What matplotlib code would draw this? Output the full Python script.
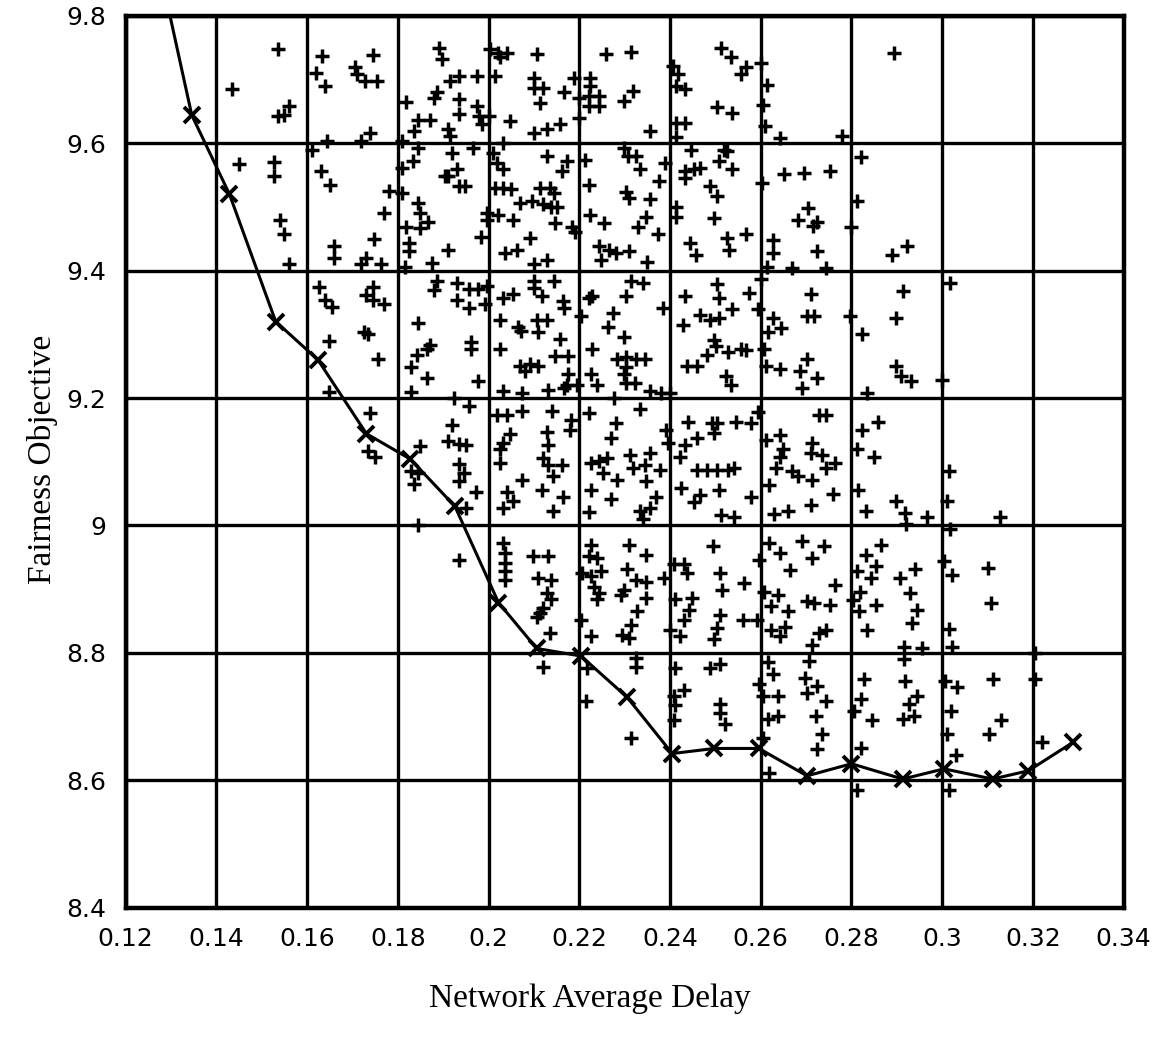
import matplotlib
matplotlib.use("Agg")
import matplotlib.pyplot as plt

# ---- Pareto curve (x markers) ----
curve_x = [0.125, 0.1346, 0.1429, 0.1531, 0.1624, 0.1731, 0.1828, 0.1926, 0.2022, 0.2106,
           0.2204, 0.2306, 0.2405, 0.2498, 0.2596, 0.2702, 0.2800, 0.2913, 0.3004,
           0.3111, 0.3190, 0.3289]
curve_y = [9.956, 9.644, 9.520, 9.320, 9.260, 9.144, 9.104, 9.030, 8.879, 8.807,
           8.795, 8.730, 8.642, 8.650, 8.650, 8.607, 8.626, 8.602, 8.618,
           8.602, 8.615, 8.660]

# ---- scattered solutions (+ markers) ----
pts = [
 # row 9.6-9.8
 (0.1535,9.748),(0.1435,9.685),(0.1537,9.643),(0.155,9.644),(0.156,9.658),
 (0.1633,9.736),(0.162,9.71),(0.164,9.69),(0.1705,9.719),(0.171,9.709),(0.1727,9.698),(0.1754,9.698),
 (0.1745,9.739),(0.1738,9.616),(0.172,9.603),(0.1645,9.603),
 (0.189,9.75),(0.1898,9.732),(0.1936,9.705),(0.1916,9.698),(0.1886,9.68),(0.188,9.671),(0.1818,9.664),
 (0.1845,9.636),(0.187,9.636),(0.1836,9.619),(0.191,9.622),(0.1916,9.611),(0.181,9.603),(0.1936,9.67),(0.1936,9.645),
 (0.1974,9.705),(0.1974,9.658),(0.198,9.643),(0.1985,9.63),(0.2004,9.748),(0.2022,9.742),(0.204,9.742),(0.2026,9.735),
 (0.2106,9.74),(0.2015,9.705),(0.21,9.703),(0.21,9.687),(0.212,9.687),(0.2113,9.663),(0.2166,9.68),(0.2188,9.703),
 (0.2048,9.635),(0.2157,9.63),(0.2128,9.622),(0.21,9.616),(0.20,9.643),(0.2033,9.60),
 (0.2258,9.74),(0.2313,9.743),(0.2224,9.703),(0.2224,9.69),(0.2221,9.674),(0.2244,9.674),(0.2221,9.658),(0.2244,9.658),
 (0.22,9.671),(0.2299,9.666),(0.2318,9.682),(0.22,9.64),(0.2355,9.619),
 (0.2512,9.75),(0.2534,9.735),(0.2557,9.709),(0.2407,9.721),(0.2418,9.709),(0.2414,9.69),(0.2433,9.685),
 (0.2503,9.656),(0.2537,9.648),(0.2414,9.632),(0.2433,9.632),(0.2414,9.61),
 (0.2568,9.719),(0.26,9.726),(0.2613,9.692),(0.2606,9.66),(0.261,9.627),(0.2643,9.608),(0.278,9.611),(0.2894,9.741),
 # row 9.4-9.6
 (0.145,9.567),(0.1528,9.571),(0.1528,9.549),(0.154,9.48),(0.155,9.457),(0.156,9.41),
 (0.161,9.59),(0.163,9.556),(0.165,9.535),(0.178,9.525),(0.177,9.49),(0.1747,9.45),(0.166,9.438),(0.166,9.42),
 (0.173,9.42),(0.172,9.41),(0.1763,9.41),
 (0.1845,9.593),(0.1833,9.572),(0.192,9.585),(0.181,9.561),(0.191,9.548),(0.193,9.559),(0.181,9.522),(0.1845,9.506),
 (0.1848,9.49),(0.1867,9.477),(0.1848,9.467),(0.1818,9.469),(0.1825,9.443),(0.1825,9.43),(0.191,9.433),(0.1875,9.412),
 (0.1815,9.405),(0.1905,9.548),(0.1936,9.532),
 (0.1966,9.593),(0.1948,9.532),(0.2011,9.585),(0.2018,9.569),(0.2033,9.559),(0.2015,9.53),(0.2033,9.53),(0.205,9.528),
 (0.2128,9.58),(0.2172,9.572),(0.2161,9.556),(0.2114,9.53),(0.2136,9.53),(0.2145,9.522),(0.207,9.506),(0.2095,9.509),
 (0.212,9.504),(0.2138,9.50),(0.2152,9.50),(0.1996,9.49),(0.1996,9.48),(0.2022,9.487),(0.2055,9.48),(0.2147,9.474),
 (0.2185,9.469),(0.219,9.46),(0.1983,9.453),(0.2091,9.451),(0.2037,9.427),(0.2062,9.433),(0.2128,9.417),(0.21,9.411),
 (0.2213,9.574),(0.2221,9.535),(0.2299,9.593),(0.2307,9.58),(0.2325,9.58),(0.2333,9.559),(0.2376,9.54),(0.239,9.569),
 (0.2302,9.524),(0.231,9.514),(0.2355,9.512),(0.2347,9.484),(0.2224,9.487),(0.2255,9.474),(0.2329,9.469),(0.2373,9.458),
 (0.2244,9.438),(0.2266,9.433),(0.228,9.427),(0.231,9.43),(0.2247,9.417),(0.2349,9.414),
 (0.2433,9.556),(0.2452,9.559),(0.2467,9.561),(0.2433,9.545),(0.2508,9.572),(0.2537,9.559),(0.2447,9.59),(0.2519,9.59),
 (0.2525,9.588),(0.2489,9.532),(0.2503,9.517),(0.2414,9.50),(0.2414,9.484),(0.2497,9.482),(0.2443,9.443),(0.2526,9.451),
 (0.253,9.433),(0.2458,9.425),
 (0.282,9.578),(0.2651,9.551),(0.2696,9.553),(0.2752,9.556),(0.2603,9.537),(0.2704,9.498),(0.2682,9.479),(0.2723,9.477),
 (0.2715,9.47),(0.2813,9.509),(0.28,9.469),(0.2568,9.458),(0.2628,9.448),(0.2628,9.427),(0.2723,9.43),(0.2923,9.439),
 (0.289,9.425),(0.2613,9.406),(0.2668,9.404),(0.2743,9.404),
 # row 9.2-9.4
 (0.1648,9.29),(0.1648,9.21),(0.1626,9.375),(0.164,9.354),(0.1655,9.343),(0.1746,9.375),(0.173,9.362),(0.1746,9.354),
 (0.177,9.348),(0.1725,9.304),(0.1735,9.30),(0.1757,9.262),(0.1845,9.317),(0.187,9.283),(0.1864,9.277),(0.1842,9.267),
 (0.183,9.248),(0.1864,9.232),(0.183,9.21),(0.1886,9.383),(0.188,9.37),(0.193,9.38),(0.193,9.354),(0.1925,9.20),
 (0.1958,9.371),(0.1977,9.371),(0.1996,9.376),(0.1958,9.341),(0.1993,9.347),(0.1962,9.288),(0.1962,9.277),(0.1977,9.227),
 (0.2033,9.357),(0.2055,9.363),(0.21,9.384),(0.2144,9.384),(0.21,9.372),(0.2117,9.36),(0.2026,9.323),(0.2066,9.312),
 (0.2072,9.305),(0.2106,9.323),(0.2128,9.323),(0.211,9.304),(0.2165,9.352),(0.2167,9.342),(0.2158,9.293),(0.2026,9.277),
 (0.2147,9.266),(0.2176,9.266),(0.207,9.25),(0.2092,9.253),(0.211,9.25),(0.208,9.242),(0.2176,9.237),(0.2172,9.221),
 (0.2195,9.221),(0.2033,9.211),(0.2073,9.208),(0.2132,9.213),
 (0.2221,9.357),(0.2228,9.36),(0.2203,9.328),(0.2303,9.36),(0.234,9.381),(0.2314,9.384),(0.2385,9.341),(0.2275,9.333),
 (0.2264,9.312),(0.2299,9.296),(0.2229,9.277),(0.2284,9.261),(0.2303,9.264),(0.2325,9.261),(0.2344,9.261),(0.2303,9.248),
 (0.2299,9.237),(0.2303,9.224),(0.2322,9.224),(0.2225,9.237),(0.224,9.221),(0.2166,9.216),(0.2355,9.211),(0.2381,9.208),
 (0.24,9.208),(0.2277,9.20),
 (0.2433,9.36),(0.2467,9.331),(0.2489,9.323),(0.2508,9.325),(0.2429,9.315),(0.2504,9.379),(0.2508,9.357),(0.2536,9.339),
 (0.2497,9.291),(0.2502,9.282),(0.2482,9.267),(0.2437,9.25),(0.2459,9.25),(0.2527,9.272),(0.2523,9.235),(0.2534,9.221),
 (0.2557,9.277),
 (0.2575,9.365),(0.2594,9.339),(0.2568,9.275),(0.26,9.387),(0.2627,9.325),(0.2645,9.31),(0.2615,9.304),(0.2608,9.277),
 (0.2611,9.25),(0.271,9.363),(0.2702,9.328),(0.2717,9.328),(0.2702,9.261),(0.2642,9.245),(0.2687,9.242),(0.2725,9.232),
 (0.2691,9.216),(0.2797,9.328),(0.2913,9.368),(0.2898,9.325),(0.2824,9.30),(0.2898,9.25),(0.2909,9.234),(0.2931,9.226),
 (0.2835,9.208),(0.30,9.229),(0.3018,9.381),
 # row 9.0-9.2
 (0.1738,9.176),(0.1735,9.117),(0.175,9.107),(0.1848,9.125),(0.183,9.085),(0.1845,9.082),(0.1836,9.065),(0.192,9.158),
 (0.191,9.132),(0.1935,9.128),(0.1935,9.096),(0.1935,9.07),(0.1845,9.0),
 (0.1958,9.188),(0.1951,9.127),(0.1947,9.082),(0.1973,9.052),(0.1951,9.028),
 (0.2019,9.174),(0.2041,9.174),(0.2073,9.18),(0.2139,9.18),(0.2048,9.143),(0.2033,9.13),(0.2026,9.12),(0.2128,9.146),
 (0.2132,9.127),(0.2182,9.166),(0.2179,9.15),(0.2026,9.098),(0.2121,9.106),(0.2132,9.095),(0.2161,9.095),(0.2143,9.077),
 (0.2073,9.071),(0.2117,9.055),(0.2041,9.053),(0.2055,9.039),(0.2033,9.028),(0.2165,9.045),(0.2143,9.022),
 (0.2221,9.176),(0.228,9.16),(0.2269,9.138),(0.2333,9.182),(0.2392,9.15),(0.2396,9.13),(0.2311,9.111),(0.2355,9.114),
 (0.2225,9.098),(0.2244,9.101),(0.2262,9.106),(0.2318,9.09),(0.2344,9.095),(0.2377,9.087),(0.2252,9.082),(0.2284,9.071),
 (0.2348,9.069),(0.2225,9.055),(0.2269,9.042),(0.237,9.045),(0.2221,9.021),(0.2333,9.023),(0.2355,9.028),(0.234,9.01),
 (0.244,9.163),(0.2493,9.16),(0.2504,9.16),(0.2497,9.145),(0.2545,9.163),(0.2459,9.138),(0.2433,9.127),(0.2422,9.108),
 (0.2459,9.087),(0.2482,9.087),(0.2504,9.087),(0.2527,9.087),(0.2542,9.09),(0.2425,9.058),(0.2467,9.047),(0.2508,9.055),
 (0.2452,9.037),(0.2512,9.016),(0.2542,9.013),
 (0.2594,9.178),(0.2579,9.16),(0.2611,9.134),(0.2642,9.142),(0.2729,9.174),(0.2744,9.174),(0.2649,9.12),(0.2642,9.108),
 (0.2714,9.13),(0.271,9.114),(0.2736,9.111),(0.2763,9.098),(0.2744,9.09),(0.2634,9.09),(0.2668,9.085),(0.2683,9.077),
 (0.2714,9.071),(0.2619,9.063),(0.2759,9.05),(0.2579,9.045),(0.271,9.032),(0.2661,9.023),(0.263,9.018),
 (0.2824,9.15),(0.2858,9.163),(0.2812,9.12),(0.285,9.108),(0.2815,9.056),(0.2831,9.023),(0.2898,9.039),(0.2917,9.02),
 (0.2967,9.013),(0.2921,9.002),(0.3015,9.085),(0.3011,9.038),(0.3127,9.013),(0.3018,8.995),
 # row 8.8-9.0
 (0.1935,8.946),(0.2033,8.973),(0.2037,8.957),(0.2037,8.941),(0.2037,8.928),(0.2037,8.915),(0.2098,8.952),(0.2131,8.952),
 (0.2109,8.918),(0.2138,8.915),(0.2128,8.894),(0.2138,8.884),(0.212,8.87),(0.2113,8.862),(0.2106,8.857),(0.2135,8.831),
 (0.2226,8.97),(0.2222,8.952),(0.224,8.949),(0.2207,8.926),(0.2226,8.92),(0.2248,8.928),(0.2233,8.904),(0.2244,8.894),
 (0.224,8.884),(0.2204,8.852),(0.2226,8.826),(0.231,8.97),(0.2347,8.954),(0.2306,8.931),(0.2325,8.915),(0.2347,8.912),
 (0.2299,8.899),(0.2292,8.891),(0.2347,8.886),(0.2328,8.865),(0.2314,8.844),(0.2295,8.828),(0.231,8.823),
 (0.2409,8.939),(0.2431,8.939),(0.2438,8.926),(0.2387,8.918),(0.2412,8.884),(0.2449,8.886),(0.2442,8.868),(0.2431,8.852),
 (0.2401,8.836),(0.2423,8.826),(0.251,8.926),(0.2514,8.899),(0.251,8.86),(0.2494,8.967),(0.2503,8.839),(0.2496,8.821),
 (0.2564,8.91),(0.2561,8.852),(0.2596,8.946),(0.2619,8.973),(0.2642,8.957),(0.2664,8.93),(0.2691,8.975),(0.2714,8.949),
 (0.274,8.967),(0.2608,8.896),(0.2638,8.891),(0.2623,8.873),(0.2661,8.865),(0.2702,8.881),(0.2717,8.878),(0.2763,8.907),
 (0.2752,8.875),(0.2623,8.836),(0.2653,8.841),(0.2642,8.826),(0.2729,8.831),(0.2744,8.836),(0.2714,8.812),(0.2592,8.852),
 (0.2812,8.928),(0.2819,8.896),(0.2804,8.883),(0.2831,8.954),(0.2854,8.936),(0.2865,8.97),(0.2842,8.917),(0.2854,8.875),
 (0.2816,8.865),(0.2835,8.836),(0.2906,8.917),(0.294,8.931),(0.2929,8.894),(0.2944,8.868),(0.2933,8.847),(0.2915,8.81),
 (0.2956,8.807),(0.3004,8.944),(0.3022,8.922),(0.31,8.933),(0.3107,8.878),(0.3015,8.837),(0.3022,8.81),(0.3205,8.80),
 # row 8.6-8.8
 (0.212,8.778),(0.2325,8.792),(0.2325,8.778),(0.2218,8.777),(0.2215,8.724),(0.2314,8.666),
 (0.2412,8.777),(0.2431,8.741),(0.2409,8.733),(0.2412,8.718),(0.2409,8.694),(0.2488,8.777),(0.251,8.782),(0.251,8.72),
 (0.251,8.705),(0.2521,8.689),
 (0.2615,8.785),(0.2627,8.767),(0.2596,8.751),(0.2604,8.733),(0.2706,8.787),(0.2698,8.761),(0.2725,8.748),(0.2702,8.737),
 (0.2744,8.724),(0.2721,8.701),(0.2638,8.733),(0.2638,8.701),(0.2615,8.696),(0.2736,8.673),(0.2725,8.649),(0.2619,8.612),
 (0.2604,8.666),
 (0.2915,8.79),(0.2828,8.759),(0.2918,8.756),(0.282,8.727),(0.2805,8.708),(0.2945,8.733),(0.2927,8.72),(0.2913,8.696),
 (0.2938,8.701),(0.2845,8.694),(0.282,8.65),(0.2812,8.585),
 (0.3007,8.756),(0.3033,8.746),(0.3111,8.759),(0.3019,8.708),(0.3011,8.673),(0.303,8.64),(0.313,8.694),(0.3104,8.673),
 (0.3015,8.585),(0.3204,8.759),(0.322,8.66),
]
scatter_x = [p[0] for p in pts]
scatter_y = [p[1] for p in pts]

x_ticks = [0.12, 0.14, 0.16, 0.18, 0.20, 0.22, 0.24, 0.26, 0.28, 0.30, 0.32, 0.34]
x_labels = ["0.12", "0.14", "0.16", "0.18", "0.2", "0.22", "0.24", "0.26", "0.28", "0.3", "0.32", "0.34"]
y_ticks = [8.4, 8.6, 8.8, 9.0, 9.2, 9.4, 9.6, 9.8]
y_labels = ["8.4", "8.6", "8.8", "9", "9.2", "9.4", "9.6", "9.8"]

fig = plt.figure(figsize=(11.73, 10.47), dpi=100)
ax = fig.add_axes([0.107, 0.133, 0.851, 0.852])

ax.plot(scatter_x, scatter_y, linestyle="none", marker="+", markersize=10,
        markeredgewidth=2.5, color="black", zorder=3)
ax.plot(curve_x, curve_y, color="black", linewidth=2.2, marker="x", markersize=12,
        markeredgewidth=2.8, zorder=4)

ax.set_xlim(0.12, 0.34)
ax.set_ylim(8.4, 9.8)
ax.set_xticks(x_ticks)
ax.set_xticklabels(x_labels)
ax.set_yticks(y_ticks)
ax.set_yticklabels(y_labels)
ax.grid(True, color="black", linewidth=2.4)
ax.set_axisbelow(True)
for s in ax.spines.values():
    s.set_linewidth(3.2)
ax.tick_params(length=0, labelsize=18, pad=14)
for lab in ax.get_xticklabels() + ax.get_yticklabels():
    lab.set_fontfamily("DejaVu Sans")

fig.text(0.503, 0.046, "Network Average Delay", fontsize=24, family="Liberation Serif",
         ha="center", va="center")
fig.text(0.036, 0.561, "Fairness Objective", fontsize=24, family="Liberation Serif",
         ha="center", va="center", rotation=90)

fig.savefig("out.png", dpi=100)
